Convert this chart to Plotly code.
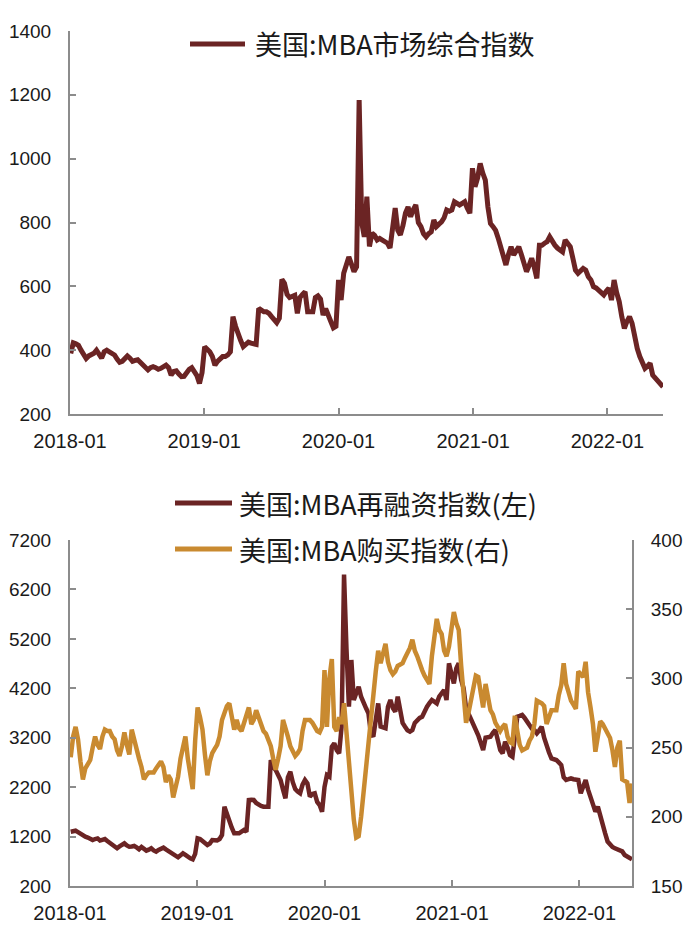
import pandas as pd
import plotly.graph_objects as go

# ---------------- data (weekly) ----------------
dates = pd.date_range("2018-01-03", periods=231, freq="7D")

composite = [
    390, 423, 420, 415, 400, 385, 374, 382, 385, 390,
    400, 385, 375, 395, 400, 395, 390, 385, 372, 362,
    365, 372, 382, 375, 365, 368, 370, 362, 355, 345,
    338, 345, 348, 345, 340, 343, 350, 353, 345, 322,
    333, 335, 325, 317, 318, 330, 340, 345, 335, 320,
    296, 330, 411, 405, 395, 380, 353, 365, 375, 380,
    380, 385, 395, 505, 475, 445, 430, 411, 418, 425,
    422, 420, 418, 531, 525, 520, 520, 515, 505, 495,
    486, 500, 622, 610, 575, 565, 570, 572, 515, 565,
    575, 583, 520, 518, 520, 565, 570, 560, 510, 530,
    505, 490, 470, 475, 620, 557, 641, 675, 692, 670,
    646, 661, 1184, 800, 755, 881, 725, 767, 760, 745,
    750, 745, 740, 735, 720, 780, 845, 776, 761, 790,
    830, 849, 818, 840, 855, 800, 787, 765, 755, 765,
    771, 808, 787, 795, 802, 815, 839, 835, 839, 865,
    860, 855, 860, 865, 845, 829, 970, 912, 940, 985,
    955, 933, 849, 797, 787, 775, 751, 725, 698, 667,
    700, 724, 698, 710, 724, 700, 677, 646, 665, 688,
    660, 625, 729, 729, 735, 740, 755, 740, 729, 720,
    714, 708, 745, 735, 724, 688, 651, 641, 650, 656,
    651, 630, 620, 599, 595, 588, 580, 573, 585, 594,
    557, 620, 580, 552, 505, 468, 490, 505, 484, 432,
    405, 380, 360, 343, 350, 359, 322, 312, 300, 291,
    285,
]

refinance = [
    1298, 1310, 1318, 1290, 1250, 1220, 1197, 1180, 1150, 1130,
    1150, 1163, 1120, 1135, 1150, 1110, 1076, 1040, 1000, 963,
    1000, 1040, 1063, 1020, 995, 1000, 1010, 980, 943, 990,
    960, 915, 935, 963, 920, 895, 930, 965, 976, 940,
    910, 862, 840, 810, 781, 820, 862, 830, 790, 760,
    740, 850, 1163, 1150, 1110, 1060, 1029, 1060, 1130, 1125,
    1120, 1150, 1231, 1804, 1650, 1534, 1380, 1265, 1260, 1265,
    1300, 1332, 1298, 1940, 1945, 1940, 1880, 1838, 1820, 1804,
    1810, 1804, 2749, 2600, 2547, 2450, 2344, 2150, 1974, 2400,
    2513, 2300, 2160, 2109, 2075, 2250, 2344, 2277, 2008, 2060,
    2075, 1900, 1838, 1703, 2200, 2446, 2412, 3018, 3086, 2950,
    2884, 3423, 6500, 5000, 3828, 4772, 3963, 4100, 4232, 4030,
    3895, 3800, 3693, 3289, 3221, 3600, 3895, 3423, 3400, 3390,
    3828, 3963, 3800, 3727, 4030, 3693, 3500, 3423, 3350, 3322,
    3356, 3500, 3558, 3600, 3625, 3750, 3828, 3900, 3963, 3930,
    3895, 4030, 4100, 4165, 3963, 4705, 4500, 4300, 4600, 4705,
    4367, 4200, 3800, 3700, 3600, 3500, 3350, 3250, 3100, 2950,
    3200, 3200, 3220, 3300, 3356, 3153, 2950, 2883, 3120, 3000,
    2850, 2816, 3288, 3625, 3640, 3659, 3600, 3524, 3450, 3380,
    3356, 3288, 3350, 3423, 3200, 3019, 2900, 2783, 2770, 2749,
    2700, 2648, 2400, 2345, 2360, 2378, 2360, 2350, 2345, 2075,
    2200, 2345, 2150, 2008, 1800, 1704, 1805, 1600, 1400, 1265,
    1100, 1029, 990, 962, 945, 928, 900, 827, 800, 760,
    740,
]

purchase = [
    243, 258, 265, 256, 240, 227, 235, 238, 241, 250,
    258, 252, 249, 258, 263, 262, 262, 258, 256, 248,
    244, 251, 261, 252, 245, 263, 255, 248, 242, 236,
    227, 230, 232, 232, 232, 235, 237, 240, 236, 225,
    230, 227, 214, 222, 229, 242, 252, 258, 242, 228,
    220, 255, 279, 272, 263, 245, 230, 240, 246, 249,
    252, 258, 270, 275, 280, 282, 272, 263, 270, 264,
    262, 268, 272, 279, 267, 270, 277, 272, 268, 262,
    260, 256, 251, 242, 234, 242, 251, 270, 265, 258,
    251, 248, 244, 246, 249, 262, 270, 270, 270, 268,
    265, 262, 261, 265, 306, 265, 300, 314, 265, 262,
    272, 267, 282, 262, 241, 215, 198, 185, 186, 200,
    218, 238, 255, 275, 292, 305, 320, 311, 318, 325,
    312, 306, 303, 305, 309, 310, 311, 315, 318, 322,
    328, 320, 316, 310, 306, 302, 298, 296, 316, 330,
    343, 335, 332, 320, 316, 323, 335, 348, 340, 335,
    309, 285, 268, 275, 285, 295, 302, 301, 290, 279,
    296, 285, 277, 274, 268, 265, 262, 265, 267, 258,
    254, 253, 273, 262, 252, 248, 249, 250, 255, 258,
    267, 284, 283, 282, 280, 267, 272, 277, 277, 277,
    288, 295, 311, 296, 290, 284, 281, 278, 305, 303,
    301, 312, 290, 279, 267, 247, 260, 269, 267, 263,
    261, 257, 248, 236, 250, 255, 227, 226, 225, 210,
    224,
]

name_top = "美国:MBA市场综合指数"
name_refi = "美国:MBA再融资指数(左)"
name_purch = "美国:MBA购买指数(右)"

top_ticks = [200, 400, 600, 800, 1000, 1200, 1400]
left_ticks = [200, 1200, 2200, 3200, 4200, 5200, 6200, 7200]
right_ticks = [150, 200, 250, 300, 350, 400]

# ---------------- styling ----------------
RED = "#6B2424"
GOLD = "#C98A30"
AXIS = "#8C8C8C"
TXT = "#1A1A1A"
FONT = "Liberation Sans, Arial, Noto Sans CJK SC, sans-serif"
OFF = 8                      # page body margin of the browser
W, H = 700 - OFF, 938 - OFF  # figure size so it fits the 700x938 window


def px(x):
    return (x - OFF) / W


def py(y):
    return 1 - (y - OFF) / H


fig = go.Figure()

fig.add_trace(go.Scatter(x=dates[:len(composite)], y=composite, mode="lines",
                         line=dict(color=RED, width=5), name=name_top,
                         xaxis="x", yaxis="y", showlegend=False))
fig.add_trace(go.Scatter(x=dates[:len(purchase)], y=purchase, mode="lines",
                         line=dict(color=GOLD, width=4.5), name=name_purch,
                         xaxis="x2", yaxis="y3", showlegend=False))
fig.add_trace(go.Scatter(x=dates[:len(refinance)], y=refinance, mode="lines",
                         line=dict(color=RED, width=4.5), name=name_refi,
                         xaxis="x2", yaxis="y2", showlegend=False))

xcommon = dict(type="date", range=["2018-01-01", "2022-06-01"],
               tick0="2018-01-01", dtick="M12", tickformat="%Y-%m",
               showgrid=False, zeroline=False, showline=True, automargin=False,
               linecolor=AXIS, linewidth=2, ticks="inside", ticklen=6,
               tickcolor=AXIS, tickwidth=2, ticklabelstandoff=8,
               tickfont=dict(size=20, color=TXT, family=FONT))
ycommon = dict(showgrid=False, zeroline=False, showline=True, automargin=False,
               linecolor=AXIS, linewidth=2, ticks="inside", ticklen=6,
               tickcolor=AXIS, tickwidth=2, ticklabelstandoff=13,
               tickfont=dict(size=19, color=TXT, family=FONT))

fig.update_layout(
    width=W, height=H,
    margin=dict(l=0, r=0, t=0, b=0),
    paper_bgcolor="white", plot_bgcolor="white",
    font=dict(family=FONT, color=TXT),
    showlegend=False,
    xaxis=dict(domain=[px(70), px(663)], anchor="y", **xcommon),
    yaxis=dict(domain=[py(414), py(31)], anchor="x", range=[200, 1400],
               tickvals=top_ticks, **ycommon),
    xaxis2=dict(domain=[px(70), px(632)], anchor="y2", **xcommon),
    yaxis2=dict(domain=[py(886), py(540)], anchor="x2", range=[200, 7200],
                tickvals=left_ticks, **ycommon),
    yaxis3=dict(overlaying="y2", side="right", anchor="x2", range=[150, 400],
                tickvals=right_ticks, **ycommon),
)

# ---------------- legends (drawn as key lines + labels) ----------------
legend_items = [
    (190, 245, 44, 253, RED, name_top),
    (175, 232, 503, 237, RED, name_refi),
    (175, 232, 549, 237, GOLD, name_purch),
]
for x0, x1, yy, xt, col, label in legend_items:
    fig.add_shape(type="line", xref="paper", yref="paper",
                  x0=px(x0), x1=px(x1), y0=py(yy), y1=py(yy),
                  line=dict(color=col, width=5))
    fig.add_annotation(xref="paper", yref="paper", x=px(xt), y=py(yy),
                       xanchor="left", yanchor="middle", showarrow=False,
                       text=label, font=dict(size=27, color=TXT,
                                             family="Noto Sans CJK SC, sans-serif"))

fig.write_html("out.html")
